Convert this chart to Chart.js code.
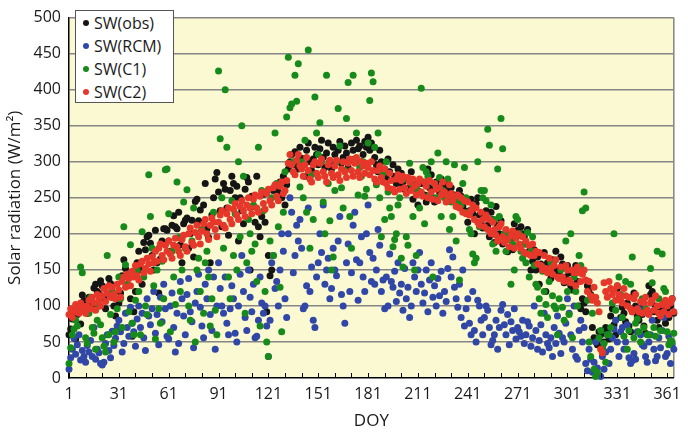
<!DOCTYPE html>
<html>
<head>
<meta charset="utf-8">
<title>Solar radiation by DOY</title>
<script src="https://cdn.jsdelivr.net/npm/chart.js@4.4.0/dist/chart.umd.min.js"></script>
<style>
  html, body { margin: 0; padding: 0; background: #fff; }
  #wrap { position: relative; width: 688px; height: 435px; }
  #legend {
    position: absolute; left: 75px; top: 10px; width: 99px; height: 93px;
    box-sizing: border-box; background: #fff; border: 1.5px solid #555;
    font: 16px "Open Sans", sans-serif; color: #1a1a1a;
  }
  #legend .item { position: absolute; left: 0; height: 20px; line-height: 20px; white-space: nowrap; }
  #legend .dot { position: absolute; left: 7px; top: 7px; width: 6px; height: 6px; border-radius: 50%; }
  #legend .txt { position: absolute; left: 18px; top: 0; }
</style>
</head>
<body>
<div id="wrap">
  <canvas id="swChart" width="688" height="435"></canvas>
  <div id="legend"></div>
</div>
<script>
// Day of year (x values) and axis ticks
const days = Array.from({ length: 365 }, (_, i) => i + 1);
const xTickDays = [1, 11, 21, 31, 41, 51, 61, 71, 81, 91, 101, 111, 121, 131, 141, 151, 161, 171, 181,
  191, 201, 211, 221, 231, 241, 251, 261, 271, 281, 291, 301, 311, 321, 331, 341, 351, 361];
const xLabelDays = [1, 31, 61, 91, 121, 151, 181, 211, 241, 271, 301, 331, 361];

// SW(obs), one value per day (W/m2)
const swObs = [
  60, 68, 82, 95, 54, 88, 100, 75, 115, 107,
  96, 90, 112, 104, 98, 125, 130, 120, 117, 135,
  128, 110, 96, 118, 138, 131, 112, 100, 86, 67,
  104, 118, 142, 164, 152, 143, 128, 110, 58, 92,
  120, 160, 176, 150, 130, 188, 178, 196, 198, 187,
  170, 150, 205, 160, 118, 165, 190, 207, 207, 205,
  190, 176, 212, 225, 210, 207, 230, 185, 160, 214,
  219, 222, 180, 200, 219, 168, 245, 248, 218, 233,
  205, 240, 270, 207, 195, 160, 226, 250, 276, 285,
  258, 232, 210, 270, 262, 236, 198, 260, 280, 270,
  250, 266, 190, 250, 232, 214, 262, 278, 272, 150,
  252, 238, 216, 280, 210, 196, 224, 255, 216, 92,
  170, 142, 150, 260, 262, 268, 258, 272, 250, 280,
  240, 268, 290, 300, 310, 296, 314, 300, 290, 320,
  305, 296, 280, 316, 326, 300, 288, 304, 320, 310,
  296, 318, 330, 306, 292, 312, 326, 300, 290, 320,
  310, 300, 316, 328, 298, 306, 322, 312, 292, 302,
  326, 316, 304, 330, 318, 322, 300, 310, 328, 320,
  334, 316, 326, 320, 306, 296, 286, 316, 300, 276,
  290, 278, 304, 286, 262, 296, 280, 270, 290, 268,
  284, 272, 262, 258, 276, 264, 286, 248, 270, 262,
  240, 258, 270, 272, 254, 244, 290, 264, 282, 250,
  244, 272, 264, 258, 276, 266, 256, 262, 270, 250,
  264, 246, 254, 244, 240, 260, 252, 238, 232, 246,
  216, 232, 248, 228, 200, 242, 250, 226, 214, 208,
  224, 232, 212, 196, 230, 220, 188, 238, 212, 200,
  218, 186, 196, 204, 175, 180, 192, 178, 214, 198,
  205, 198, 210, 200, 196, 186, 206, 176, 150, 162,
  178, 150, 168, 130, 158, 152, 174, 120, 160, 146,
  138, 164, 150, 176, 150, 144, 168, 158, 132, 140,
  156, 146, 128, 122, 150, 156, 134, 100, 96, 110,
  104, 92, 128, 124, 116, 70, 56, 50, 46, 64,
  60, 42, 50, 70, 66, 54, 86, 96, 74, 60,
  124, 110, 84, 98, 90, 78, 104, 72, 64, 92,
  118, 100, 86, 80, 96, 88, 72, 62, 94, 128,
  116, 120, 92, 100, 80, 70, 96, 88, 104, 76,
  96, 84, 100, 110, 90
];

// SW(RCM)
const swRcm = [
  12, 28, 40, 55, 33, 46, 60, 25, 38, 30,
  22, 45, 36, 52, 30, 70, 26, 40, 35, 20,
  18, 22, 48, 60, 38, 28, 65, 45, 55, 72,
  80, 64, 36, 48, 90, 70, 58, 98, 76, 64,
  44, 82, 100, 70, 90, 56, 38, 110, 86, 74,
  96, 120, 62, 88, 46, 112, 78, 130, 96, 58,
  54, 100, 118, 70, 36, 90, 48, 134, 110, 86,
  60, 116, 138, 92, 78, 42, 104, 120, 144, 98,
  72, 56, 130, 110, 150, 88, 66, 140, 40, 100,
  160, 124, 100, 90, 140, 76, 60, 96, 128, 110,
  62, 50, 100, 144, 170, 120, 84, 66, 150, 112,
  92, 130, 56, 58, 80, 140, 104, 90, 100, 72,
  30, 80, 160, 170, 124, 134, 100, 150, 200, 176,
  110, 84, 200, 250, 230, 146, 170, 212, 190, 220,
  180, 96, 100, 128, 236, 120, 154, 80, 70, 140,
  160, 200, 174, 240, 130, 150, 166, 110, 124, 180,
  150, 142, 190, 224, 116, 100, 76, 160, 186, 120,
  146, 212, 230, 164, 108, 160, 196, 140, 120, 200,
  240, 174, 134, 166, 130, 150, 206, 184, 120, 136,
  96, 140, 100, 172, 134, 126, 148, 106, 160, 118,
  130, 94, 152, 110, 126, 84, 100, 160, 140, 120,
  150, 174, 130, 104, 118, 150, 92, 136, 160, 112,
  128, 100, 138, 114, 148, 90, 120, 106, 152, 178,
  140, 168, 126, 110, 98, 130, 84, 150, 72, 96,
  110, 76, 60, 120, 66, 50, 108, 100, 80, 60,
  84, 100, 94, 70, 46, 52, 60, 80, 40, 70,
  94, 102, 74, 60, 88, 46, 78, 66, 96, 54,
  70, 64, 58, 80, 48, 60, 78, 72, 44, 56,
  100, 66, 40, 52, 74, 36, 90, 60, 48, 42,
  56, 30, 70, 48, 86, 62, 34, 56, 50, 76,
  110, 90, 60, 40, 100, 30, 26, 66, 80, 50,
  70, 20, 10, 40, 26, 8, 22, 50, 14, 4,
  2, 30, 12, 36, 60, 20, 40, 56, 68, 80,
  50, 30, 64, 70, 40, 50, 74, 28, 20, 24,
  34, 26, 64, 96, 60, 46, 44, 30, 22, 50,
  60, 80, 40, 24, 30, 56, 42, 66, 84, 30,
  34, 58, 20, 46, 40
];

// SW(C1)
const swC1 = [
  20, 42, 60, 68, 80, 72, 100, 154, 146, 95,
  56, 48, 90, 112, 70, 62, 40, 80, 100, 74,
  56, 44, 36, 170, 60, 88, 120, 50, 64, 96,
  140, 110, 70, 210, 157, 130, 92, 185, 76, 60,
  108, 150, 120, 60, 203, 140, 100, 88, 282, 224,
  180, 128, 54, 150, 96, 76, 162, 110, 289, 290,
  228, 64, 176, 140, 102, 272, 195, 120, 150, 244,
  180, 261, 100, 80, 190, 236, 50, 150, 166, 120,
  206, 90, 160, 176, 140, 72, 110, 230, 94, 60,
  426, 332, 250, 180, 400, 320, 140, 110, 246, 170,
  228, 150, 300, 196, 350, 280, 90, 160, 220, 200,
  176, 240, 186, 134, 320, 72, 260, 232, 120, 50,
  30, 190, 250, 170, 340, 270, 210, 126, 64, 230,
  286, 362, 445, 375, 380, 300, 420, 384, 436, 265,
  300, 250, 330, 230, 455, 180, 282, 220, 390, 340,
  310, 354, 300, 244, 200, 420, 270, 218, 150, 168,
  260, 300, 374, 322, 264, 236, 288, 360, 410, 224,
  180, 420, 302, 340, 254, 292, 280, 300, 252, 262,
  326, 385, 423, 411, 320, 268, 340, 250, 196, 284,
  220, 300, 258, 236, 224, 182, 192, 200, 240, 250,
  166, 154, 276, 196, 184, 298, 270, 224, 150, 170,
  260, 236, 402, 292, 214, 286, 280, 254, 300, 140,
  270, 250, 312, 278, 224, 260, 250, 300, 276, 206,
  244, 224, 296, 190, 244, 136, 240, 270, 292, 250,
  230, 206, 200, 172, 160, 166, 300, 210, 260, 250,
  260, 246, 345, 323, 240, 186, 220, 176, 290, 224,
  360, 318, 200, 176, 198, 192, 130, 186, 150, 224,
  220, 200, 176, 166, 186, 160, 202, 140, 176, 196,
  156, 130, 126, 110, 90, 148, 120, 102, 84, 134,
  160, 114, 100, 96, 60, 110, 150, 98, 80, 190,
  120, 88, 200, 56, 140, 120, 100, 170, 156, 232,
  258, 236, 108, 50, 30, 90, 12, 2, 8, 56,
  66, 40, 48, 22, 60, 60, 70, 104, 200, 94,
  128, 140, 116, 84, 58, 134, 40, 66, 130, 168,
  56, 76, 82, 64, 50, 110, 70, 96, 60, 60,
  152, 132, 70, 58, 176, 110, 66, 172, 124, 120,
  64, 46, 52, 50, 62
];

// SW(C2)
const swC2 = [
  88, 96, 84, 92, 102, 98, 90, 104, 100, 94,
  90, 100, 108, 96, 112, 104, 94, 116, 108, 100,
  114, 124, 106, 118, 128, 112, 126, 116, 110, 130,
  122, 112, 134, 140, 126, 144, 138, 128, 148, 140,
  156, 142, 136, 158, 162, 146, 152, 166, 158, 148,
  168, 160, 176, 162, 180, 186, 170, 164, 184, 176,
  190, 172, 166, 184, 194, 182, 176, 170, 192, 198,
  182, 176, 200, 208, 188, 184, 202, 212, 196, 186,
  204, 214, 220, 200, 192, 212, 222, 216, 206, 196,
  216, 226, 232, 212, 208, 228, 236, 220, 214, 234,
  242, 226, 220, 238, 246, 232, 224, 240, 250, 236,
  228, 248, 254, 236, 230, 252, 258, 242, 234, 256,
  262, 246, 240, 264, 268, 252, 246, 266, 272, 256,
  260, 274, 298, 310, 296, 286, 282, 302, 310, 294,
  290, 280, 296, 306, 288, 276, 272, 296, 300, 284,
  278, 298, 304, 286, 280, 272, 296, 302, 284, 278,
  294, 302, 282, 274, 290, 300, 286, 278, 298, 304,
  288, 280, 298, 306, 286, 278, 300, 294, 284, 298,
  292, 282, 300, 288, 276, 272, 288, 294, 278, 272,
  290, 270, 264, 284, 274, 262, 258, 276, 282, 262,
  274, 280, 264, 256, 278, 272, 260, 276, 266, 254,
  270, 276, 258, 252, 272, 266, 250, 274, 258, 248,
  270, 262, 246, 264, 254, 272, 258, 244, 252, 268,
  256, 246, 252, 238, 254, 236, 250, 230, 246, 228,
  244, 226, 232, 240, 220, 236, 216, 212, 230, 220,
  210, 226, 206, 220, 200, 216, 206, 198, 190, 210,
  214, 196, 188, 206, 192, 182, 198, 204, 180, 194,
  200, 186, 180, 196, 174, 190, 172, 184, 170, 186,
  170, 176, 158, 174, 156, 150, 170, 152, 146, 166,
  152, 144, 156, 164, 140, 138, 154, 140, 134, 156,
  150, 136, 132, 150, 146, 128, 154, 146, 134, 144,
  150, 136, 120, 134, 114, 108, 126, 112, 104, 92,
  40, 35, 132, 120, 112, 134, 124, 116, 122, 108,
  128, 116, 108, 104, 124, 114, 100, 112, 96, 92,
  110, 116, 96, 92, 106, 90, 104, 112, 94, 88,
  104, 108, 94, 114, 100, 90, 86, 102, 92, 108,
  100, 88, 104, 110, 92
];

const seriesNames = ['SW(obs)', 'SW(RCM)', 'SW(C1)', 'SW(C2)'];
const seriesColors = ['#151515', '#3047a8', '#178a1c', '#e6372b'];
const seriesValues = [swObs, swRcm, swC1, swC2];

Chart.defaults.font.family = '"Open Sans", sans-serif';
Chart.defaults.color = '#1a1a1a';

// yellow plot background + grey right border
const plotBackground = {
  id: 'plotBackground',
  beforeDraw(chart) {
    const { ctx, chartArea: a } = chart;
    ctx.save();
    ctx.fillStyle = '#fbf9d1';
    ctx.fillRect(a.left, a.top, a.right - a.left, a.bottom - a.top);
    ctx.strokeStyle = '#858585';
    ctx.lineWidth = 1.5;
    ctx.beginPath();
    ctx.moveTo(a.right, a.top);
    ctx.lineTo(a.right, a.bottom);
    ctx.stroke();
    ctx.restore();
  }
};

// small tick marks pointing up from the x axis
const innerTicks = {
  id: 'innerTicks',
  afterDraw(chart) {
    const { ctx, chartArea: a, scales } = chart;
    ctx.save();
    ctx.strokeStyle = '#000';
    ctx.lineWidth = 1;
    xTickDays.forEach(d => {
      const px = Math.round(scales.x.getPixelForValue(d)) + 0.5;
      ctx.beginPath();
      ctx.moveTo(px, a.bottom);
      ctx.lineTo(px, a.bottom - 5);
      ctx.stroke();
    });
    ctx.restore();
  }
};

const datasets = seriesNames.map((name, i) => ({
  label: name,
  data: days.map((d, j) => ({ x: d, y: seriesValues[i][j] })),
  backgroundColor: seriesColors[i],
  borderColor: seriesColors[i],
  pointRadius: 3.5,
  pointBorderWidth: 0,
  pointHoverRadius: 3.5,
  clip: false,
  order: seriesNames.length - i   // last series on top, like the original
}));

new Chart(document.getElementById('swChart'), {
  type: 'scatter',
  data: { datasets },
  options: {
    responsive: false,
    animation: false,
    events: [],
    layout: { padding: { top: 10, right: 11, left: 0, bottom: 0 } },
    plugins: { legend: { display: false }, tooltip: { enabled: false } },
    scales: {
      x: {
        type: 'linear',
        min: 1,
        max: 365,
        afterBuildTicks: scale => { scale.ticks = xTickDays.map(v => ({ value: v })); },
        afterFit: scale => { scale.height = 57; },
        grid: { display: true, drawOnChartArea: false, drawTicks: false },
        border: { display: true, color: '#000', width: 1.5 },
        ticks: {
          autoSkip: false,
          maxRotation: 0,
          padding: 7,
          font: { size: 16 },
          callback: v => (xLabelDays.includes(v) ? String(v) : '')
        },
        title: { display: true, text: 'DOY', font: { size: 17 }, padding: { top: 0, bottom: 4 } }
      },
      y: {
        min: 0,
        max: 500,
        afterFit: scale => { scale.width = 69; },
        grid: {
          color: c => (c.tick && c.tick.value === 0 ? 'rgba(0,0,0,0)' : '#858585'),
          lineWidth: 1.5,
          drawTicks: false
        },
        border: { display: true, color: '#000', width: 1.5 },
        ticks: { stepSize: 50, padding: 8, font: { size: 16 } },
        title: { display: true, text: 'Solar radiation (W/m²)', font: { size: 17 }, padding: { top: 5, bottom: 0 } }
      }
    }
  },
  plugins: [plotBackground, innerTicks]
});

// legend box inside the plot
const legend = document.getElementById('legend');
seriesNames.forEach((name, i) => {
  const item = document.createElement('div');
  item.className = 'item';
  item.style.top = (2 + i * 23) + 'px';
  item.innerHTML = '<span class="dot" style="background:' + seriesColors[i] + '"></span><span class="txt">' + name + '</span>';
  legend.appendChild(item);
});
</script>
</body>
</html>
